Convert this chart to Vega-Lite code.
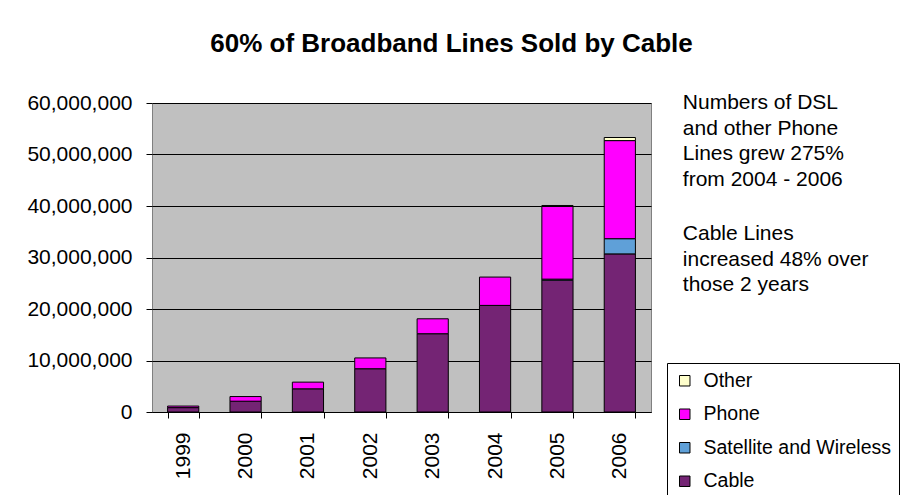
{
  "$schema": "https://vega.github.io/schema/vega-lite/v6.json",
  "width": 499,
  "height": 309,
  "autosize": {"type": "none"},
  "padding": {"left": 152, "top": 103, "right": 253, "bottom": 83},
  "background": "white",
  "title": {
    "text": "60% of Broadband Lines Sold by Cable",
    "font": "Liberation Sans",
    "fontSize": 26,
    "fontWeight": "bold",
    "color": "black",
    "anchor": "middle",
    "frame": "group",
    "dx": 50,
    "offset": 35
  },
  "layer": [
    {
      "data": {
        "values": [
          {"year": "1999", "type": "Cable", "order": 1, "lines": 850000},
          {"year": "1999", "type": "Phone", "order": 3, "lines": 300000},
          {"year": "2000", "type": "Cable", "order": 1, "lines": 2100000},
          {"year": "2000", "type": "Phone", "order": 3, "lines": 900000},
          {"year": "2001", "type": "Cable", "order": 1, "lines": 4500000},
          {"year": "2001", "type": "Phone", "order": 3, "lines": 1300000},
          {"year": "2002", "type": "Cable", "order": 1, "lines": 8400000},
          {"year": "2002", "type": "Phone", "order": 3, "lines": 2100000},
          {"year": "2003", "type": "Cable", "order": 1, "lines": 15200000},
          {"year": "2003", "type": "Phone", "order": 3, "lines": 2900000},
          {"year": "2004", "type": "Cable", "order": 1, "lines": 20700000},
          {"year": "2004", "type": "Phone", "order": 3, "lines": 5500000},
          {"year": "2005", "type": "Cable", "order": 1, "lines": 25600000},
          {"year": "2005", "type": "Satellite and Wireless", "order": 2, "lines": 200000},
          {"year": "2005", "type": "Phone", "order": 3, "lines": 14100000},
          {"year": "2005", "type": "Other", "order": 4, "lines": 200000},
          {"year": "2006", "type": "Cable", "order": 1, "lines": 30700000},
          {"year": "2006", "type": "Satellite and Wireless", "order": 2, "lines": 2950000},
          {"year": "2006", "type": "Phone", "order": 3, "lines": 19050000},
          {"year": "2006", "type": "Other", "order": 4, "lines": 600000}
        ]
      },
      "mark": {"type": "bar", "stroke": "black", "strokeWidth": 1},
      "encoding": {
        "x": {
          "field": "year",
          "type": "ordinal",
          "title": null,
          "scale": {"paddingInner": 0.5, "paddingOuter": 0.25},
          "axis": {
            "labelAngle": -90,
            "labelFont": "Liberation Sans",
            "labelFontSize": 21,
            "labelColor": "black",
            "tickBand": "extent",
            "tickSize": 6,
            "tickColor": "black",
            "domainColor": "black",
            "labelPadding": 14,
            "grid": false
          }
        },
        "y": {
          "field": "lines",
          "type": "quantitative",
          "stack": "zero",
          "title": null,
          "scale": {"domain": [0, 60000000], "nice": false},
          "axis": {
            "values": [0, 10000000, 20000000, 30000000, 40000000, 50000000, 60000000],
            "format": ",d",
            "labelFont": "Liberation Sans",
            "labelFontSize": 21,
            "labelColor": "black",
            "gridColor": "black",
            "gridOpacity": 1,
            "tickColor": "black",
            "tickSize": 6,
            "labelPadding": 14,
            "domain": false
          }
        },
        "color": {
          "field": "type",
          "type": "nominal",
          "scale": {
            "domain": ["Other", "Phone", "Satellite and Wireless", "Cable"],
            "range": ["#ffffcc", "#ff00ff", "#5fa0d8", "#742474"]
          },
          "legend": {
            "title": null,
            "orient": "none",
            "legendX": 515,
            "legendY": 260,
            "direction": "vertical",
            "symbolType": "square",
            "symbolSize": 110,
            "symbolStrokeColor": "black",
            "symbolStrokeWidth": 1,
            "symbolOpacity": 1,
            "labelFont": "Liberation Sans",
            "labelFontSize": 19.5,
            "labelColor": "black",
            "labelOffset": 9,
            "labelLimit": 400,
            "rowPadding": 12.5,
            "padding": 8,
            "strokeColor": "black",
            "fillColor": "white",
            "cornerRadius": 0
          }
        },
        "order": {"field": "order", "type": "quantitative"}
      }
    },
    {
      "data": {
        "values": [
          {"note": ["Numbers of DSL", "and other Phone", "Lines grew  275%", "from 2004 - 2006"]}
        ]
      },
      "mark": {
        "type": "text",
        "align": "left",
        "baseline": "top",
        "font": "Liberation Sans",
        "fontSize": 21,
        "lineHeight": 25.5,
        "dx": 63,
        "dy": -11,
        "color": "black"
      },
      "encoding": {
        "x": {"datum": "2006"},
        "y": {"datum": 60000000},
        "text": {"field": "note"}
      }
    },
    {
      "data": {
        "values": [
          {"note": ["Cable Lines", "increased 48% over", "those 2 years"]}
        ]
      },
      "mark": {
        "type": "text",
        "align": "left",
        "baseline": "top",
        "font": "Liberation Sans",
        "fontSize": 21,
        "lineHeight": 25.5,
        "dx": 63,
        "dy": -11,
        "color": "black"
      },
      "encoding": {
        "x": {"datum": "2006"},
        "y": {"datum": 34500000},
        "text": {"field": "note"}
      }
    }
  ],
  "config": {
    "view": {"stroke": "#808080", "fill": "#c0c0c0"},
    "font": "Liberation Sans"
  }
}
